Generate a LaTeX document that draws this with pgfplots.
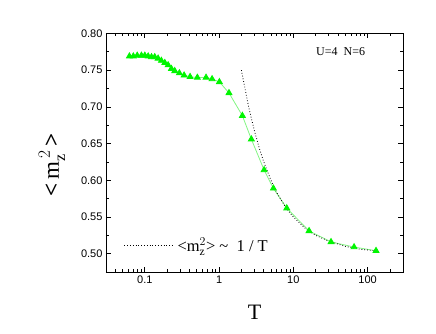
\documentclass[border=0pt]{standalone}
\usepackage{fontspec}
\setmainfont{Liberation Serif}
\newfontfamily\arial{Liberation Sans}
\usepackage{pgfplots}
\pgfplotsset{compat=1.18}
\definecolor{mgreen}{RGB}{0,245,0}
\definecolor{lgreen}{RGB}{130,245,130}

\begin{document}
\begin{tikzpicture}
\begin{semilogxaxis}[
  name=ax,
  scale only axis,
  width=297bp, height=238.5bp,
  xmin=0.03, xmax=300,
  ymin=0.475, ymax=0.80,
  xtick={0.1,1,10,100},
  xticklabels={0.1,1,10,100},
  minor xtick={0.04,0.05,0.06,0.07,0.08,0.09,0.2,0.3,0.4,0.5,0.6,0.7,0.8,0.9,
               2,3,4,5,6,7,8,9,20,30,40,50,60,70,80,90,200},
  ytick={0.50,0.55,0.60,0.65,0.70,0.75,0.80},
  minor ytick={0.475,0.525,0.575,0.625,0.675,0.725,0.775},
  yticklabel style={/pgf/number format/.cd, fixed, fixed zerofill, precision=2},
  /pgf/number format/assume math mode=true,
  tick label style={font=\arial\fontsize{11bp}{13bp}\selectfont},
  major tick length=5bp, minor tick length=3bp,
  tick style={black, line width=0.7bp},
  axis line style={line width=0.9bp},
  xlabel={T},
  xlabel style={font=\fontsize{22bp}{24bp}\selectfont, at={(axis description cs:0.5,-0.168)}, anchor=center},
  ylabel={\textbf{<}\,$\mathrm{m}_{\mathrm{z}}^{\,2}$\,\textbf{>}},
  ylabel style={font=\fontsize{23bp}{25bp}\selectfont, at={(axis description cs:-0.182,0.449)}, anchor=center},
  legend style={at={(axis description cs:0.06,0.112)}, anchor=west, draw=none, fill=none,
                font=\fontsize{16.5bp}{18bp}\selectfont, inner sep=0pt},
  legend cell align=left,
  legend image code/.code={\draw[#1] (0bp,0bp) -- (48bp,0bp);},
  clip=false,
]
% green data series
\addplot[lgreen, line width=0.8bp, mark=triangle*, mark size=3.4bp,
         mark options={solid, fill=mgreen, draw=mgreen}, forget plot] coordinates {
  (0.062,0.769) (0.070,0.769) (0.079,0.770) (0.090,0.770) (0.100,0.770)
  (0.111,0.769) (0.123,0.768) (0.136,0.768) (0.151,0.766) (0.167,0.763)
  (0.186,0.760) (0.206,0.757) (0.228,0.752) (0.253,0.749) (0.292,0.746)
  (0.338,0.743) (0.407,0.741) (0.510,0.740) (0.668,0.740) (0.805,0.738)
  (1.01,0.734) (1.36,0.719) (2.06,0.688) (2.72,0.656) (4.04,0.614)
  (5.39,0.589) (8.16,0.562) (16.3,0.531) (32.2,0.516) (65.8,0.509) (130,0.504)
};
% high-temperature curve
\addplot[black, dotted, line width=0.8bp] coordinates {
  (2,0.750) (2.5,0.700) (3,0.667) (3.5,0.643) (4,0.625) (5,0.600) (6,0.583)
  (8,0.562) (10,0.550) (15,0.533) (20,0.525) (30,0.517) (50,0.510) (80,0.506) (130,0.504)
};
\addlegendentry{\,<$\mathrm{m}_{\mathrm{z}}^{2}$>\ \textasciitilde\ \ 1 / T}
\node[font=\fontsize{12bp}{14bp}\selectfont, anchor=center] at (axis description cs:0.79,0.925) {U=4\ \ N=6};
\end{semilogxaxis}
\pgfresetboundingbox
\path[use as bounding box] ([shift={(-106bp,-62bp)}]ax.south west) rectangle ([shift={(33bp,33.5bp)}]ax.north east);
\end{tikzpicture}
\end{document}
